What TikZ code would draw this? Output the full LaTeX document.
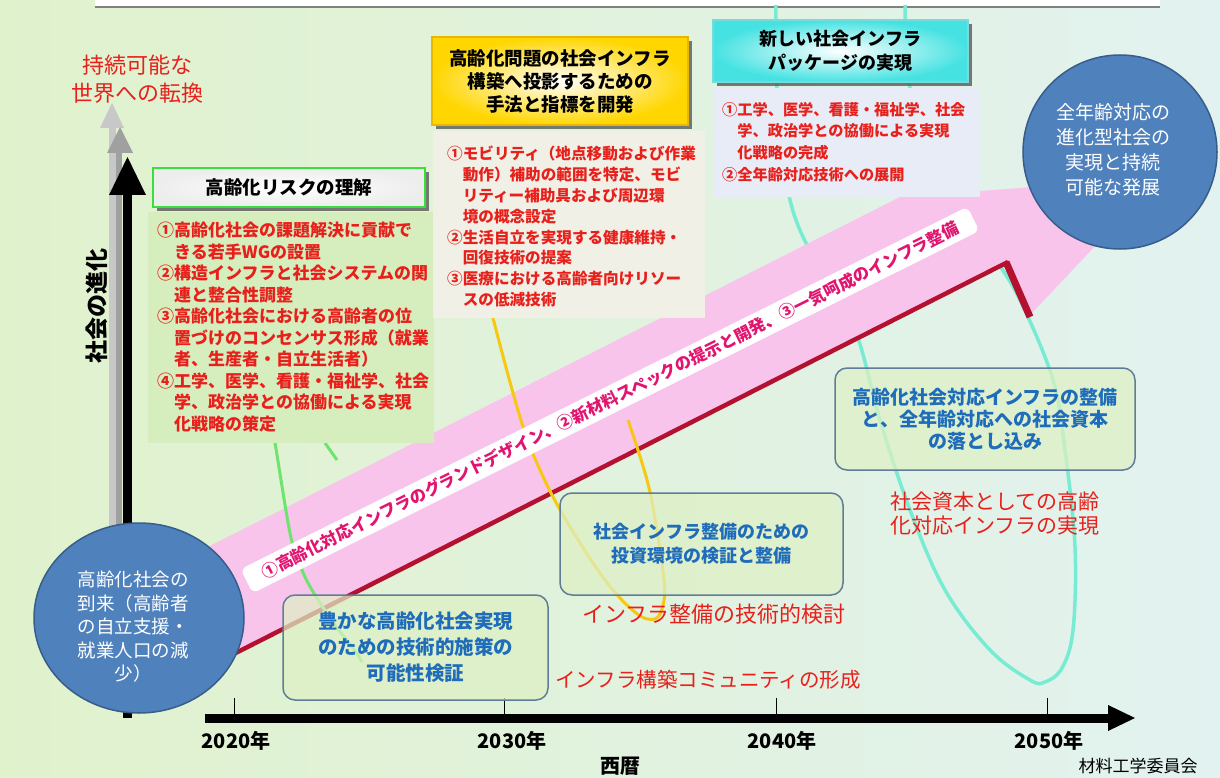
\documentclass[tikz,border=0pt]{standalone}
\usepackage{fontspec}
\setmainfont{Noto Sans CJK JP}
\usetikzlibrary{shadows}
\definecolor{bgL}{RGB}{224,242,204}
\definecolor{bgM}{RGB}{250,250,218}
\definecolor{bgR}{RGB}{226,242,240}
\definecolor{pinkc}{RGB}{248,196,236}
\definecolor{darkred}{RGB}{180,16,48}
\definecolor{redt}{RGB}{232,32,28}
\definecolor{bluet}{RGB}{30,108,186}
\definecolor{labelc}{RGB}{226,20,112}
\definecolor{circf}{RGB}{79,129,189}
\definecolor{circd}{RGB}{56,93,138}
\definecolor{greenb}{RGB}{60,222,60}
\definecolor{yellowb}{RGB}{232,184,0}
\definecolor{yellowc}{RGB}{255,214,0}
\definecolor{cyanb}{RGB}{120,218,218}
\definecolor{cyanc}{RGB}{70,226,226}
\definecolor{greenp}{RGB}{214,238,190}
\definecolor{grayp}{RGB}{240,240,230}
\definecolor{bluep}{RGB}{232,236,246}
\definecolor{boxf}{RGB}{222,240,196}
\definecolor{boxd}{RGB}{95,125,150}
\definecolor{loopc}{RGB}{120,236,210}
\definecolor{loopy}{RGB}{246,200,20}
\definecolor{loopg}{RGB}{110,228,110}
\definecolor{lgray}{RGB}{200,200,200}
\definecolor{mgray}{RGB}{160,160,160}
\tikzset{
  tbox/.style={line width=2.5pt, align=center, font=\bfseries\fontsize{18.5}{23}\selectfont,
    drop shadow={shadow xshift=4pt, shadow yshift=-4pt, fill=black!65, opacity=0.8}},
  ptext/.style={anchor=north west, inner sep=0pt, align=left, text=redt, font=\bfseries\fontsize{16}{21.5}\selectfont},
  bbox/.style={draw=boxd, line width=1.5pt, fill=boxf, fill opacity=0.72, text opacity=1, rounded corners=12pt,
    align=center, text=bluet, font=\bfseries},
  ctext/.style={align=center, text=white, inner sep=0pt},
  rtext/.style={align=left, text=redt, inner sep=0pt},
  yr/.style={font=\bfseries\fontsize{20}{20}\selectfont, inner sep=0pt},
}
\begin{document}
\begin{tikzpicture}[x=1pt,y=-1pt]
\useasboundingbox (0,0) rectangle (1220,778);
\shade[left color=bgL, middle color=bgM, right color=bgR] (0,0) rectangle (1220,778);
\fill[white] (95,0) rectangle (1160,7);
\draw[gray, line width=2pt] (95,7) -- (1160,7);

% cyan loop (under band)
\draw[loopc, line width=3.5pt] plot[smooth, tension=0.6] coordinates {(776,5) (777,88) (790,200) (820,270) (855,330) (880,420) (910,510) (945,590) (990,650) (1030,680) (1045,682) (1062,668) (1073,630) (1075,547) (1065,450) (1053,380) (1020,300) (990,250) (972,215) (935,140) (910,88) (905,5)};

% pink band arrow
\fill[pinkc] (200,671) -- (1007,263) -- (1030,315) -- (1115,225) -- (1060,185) -- (900,197) -- (200,551) -- cycle;
\draw[darkred, line width=4.5pt] (210,666) -- (1008,262);
\draw[darkred, line width=7pt] (1006,262) -- (1030,317);

% yellow and green loops
\draw[loopy, line width=3pt] plot[smooth, tension=0.6] coordinates {(490,300) (493,318) (520,417) (540,470) (566,520) (605,580) (636,613) (655,619) (663,605) (664,580) (654,513) (647,480) (637,447) (628,420)};
\draw[loopg, line width=3pt] plot[smooth, tension=0.6] coordinates {(270,420) (275,443) (290,533) (300,565) (312,590) (335,625) (353,648) (362,662)};
\draw[loopg, line width=3pt] (325,443) -- (337,460);

% label ribbon
\node[rotate=26.5, fill=white, rounded corners=6pt, minimum width=812pt, minimum height=27pt, inner sep=0pt,
  text=labelc, font=\bfseries\fontsize{16.6}{16.6}\selectfont] (lbl) at (610,400)
  {①高齢化対応インフラのグランドデザイン、②新材料スペックの提示と開発、③一気呵成のインフラ整備};

% y axis arrows
\fill[lgray] (109,540) rectangle (116,125);
\fill[lgray] (100,128) -- (124,128) -- (112,103) -- cycle;
\fill[mgray] (116,540) rectangle (122,150);
\fill[mgray] (107,153) -- (133,153) -- (120,127) -- cycle;
\fill[black] (123,718) rectangle (132,190);
\fill[black] (109,195) -- (146,195) -- (127.5,157) -- cycle;
\node[rotate=90, font=\bfseries\fontsize{23}{23}\selectfont, inner sep=0pt] (ylab) at (97,306) {社会の進化};
\node[align=center, text=redt, font=\fontsize{22}{28}\selectfont, inner sep=0pt] (top) at (137,79) {持続可能な\\世界への転換};

% x axis
\fill[black] (205,713.5) rectangle (1110,722.5);
\fill[black] (1108,705) -- (1135,718) -- (1108,731) -- cycle;
\foreach \xx in {234,504,776,1047} \draw[line width=1pt] (\xx,698) -- (\xx,714);
\node[yr] (y20) at (236,741) {2020年};
\node[yr] (y30) at (512,741) {2030年};
\node[yr] (y40) at (782,741) {2040年};
\node[yr] (y50) at (1049,741) {2050年};
\node[font=\bfseries\fontsize{20}{20}\selectfont, inner sep=0pt] (seireki) at (620,766) {西暦};
\node[font=\fontsize{17}{17}\selectfont, inner sep=0pt] (iinkai) at (1138,766) {材料工学委員会};

% panels
\fill[greenp] (148,212) rectangle (434,443);
\fill[grayp] (433,131) rectangle (705,318);
\fill[bluep] (714,88) rectangle (980,197);
\node[ptext, font=\bfseries\fontsize{17}{21.5}\selectfont] (p1) at (157,222) {①高齢化社会の課題解決に貢献で\\\hspace*{1em}きる若手WGの設置\\②構造インフラと社会システムの関\\\hspace*{1em}連と整合性調整\\③高齢化社会における高齢者の位\\\hspace*{1em}置づけのコンセンサス形成（就業\\\hspace*{1em}者、生産者・自立生活者）\\④工学、医学、看護・福祉学、社会\\\hspace*{1em}学、政治学との協働による実現\\\hspace*{1em}化戦略の策定};
\node[ptext, font=\bfseries\fontsize{15.6}{20.8}\selectfont] (p2) at (447,146) {①モビリティ（地点移動および作業\\\hspace*{1em}動作）補助の範囲を特定、モビ\\\hspace*{1em}リティー補助具および周辺環\\\hspace*{1em}境の概念設定\\②生活自立を実現する健康維持・\\\hspace*{1em}回復技術の提案\\③医療における高齢者向けリソー\\\hspace*{1em}スの低減技術};
\node[ptext, font=\bfseries\fontsize{15.2}{21.7}\selectfont] (p3) at (722,102) {①工学、医学、看護・福祉学、社会\\\hspace*{1em}学、政治学との協働による実現\\\hspace*{1em}化戦略の完成\\②全年齢対応技術への展開};

% title boxes
\node[tbox, draw=greenb, inner color=white, outer color=black!7, minimum width=272pt, minimum height=39pt] (t1) at (289,187.5) {高齢化リスクの理解};
\node[tbox, draw=yellowb, inner color=white, outer color=yellowc, minimum width=256pt, minimum height=88pt] (t2) at (560,81) {高齢化問題の社会インフラ\\構築へ投影するための\\手法と指標を開発};
\node[tbox, draw=cyanb, line width=1.5pt, inner color=white, outer color=cyanc, minimum width=255pt, minimum height=62pt, font=\bfseries\fontsize{18}{24}\selectfont] (t3) at (840.5,51) {新しい社会インフラ\\パッケージの実現};

% bottom boxes
\node[bbox, minimum width=265pt, minimum height=105pt, font=\bfseries\fontsize{19.5}{26}\selectfont] (b1) at (415.5,647.5) {豊かな高齢化社会実現\\のための技術的施策の\\可能性検証};
\node[bbox, minimum width=283pt, minimum height=102pt, font=\bfseries\fontsize{18}{24}\selectfont] (b2) at (701.5,544) {社会インフラ整備のための\\投資環境の検証と整備};
\node[bbox, minimum width=300pt, minimum height=102pt, font=\bfseries\fontsize{19}{22}\selectfont] (b3) at (985,419) {高齢化社会対応インフラの整備\\と、全年齢対応への社会資本\\の落とし込み};

% red texts
\node[rtext, font=\fontsize{21}{24}\selectfont] (r1) at (995,514) {社会資本としての高齢\\化対応インフラの実現};
\node[rtext, font=\fontsize{22}{22}\selectfont] (r2) at (714,614) {インフラ整備の技術的検討};
\node[rtext, font=\fontsize{20.5}{21}\selectfont] (r3) at (708,680) {インフラ構築コミュニティの形成};

% circles
\filldraw[fill=circf, draw=circd, line width=1.5pt] (139,618) ellipse [x radius=105, y radius=95];
\node[ctext, font=\fontsize{18.5}{23.5}\selectfont] (c1) at (133,627) {高齢化社会の\\到来（高齢者\\の自立支援・\\就業人口の減\\少）};
\filldraw[fill=circf, draw=circd, line width=1.5pt] (1120,152) ellipse [x radius=97, y radius=97];
\node[ctext, font=\fontsize{19}{25}\selectfont] (c2) at (1113,150) {全年齢対応の\\進化型社会の\\実現と持続\\可能な発展};
\end{tikzpicture}
\end{document}
